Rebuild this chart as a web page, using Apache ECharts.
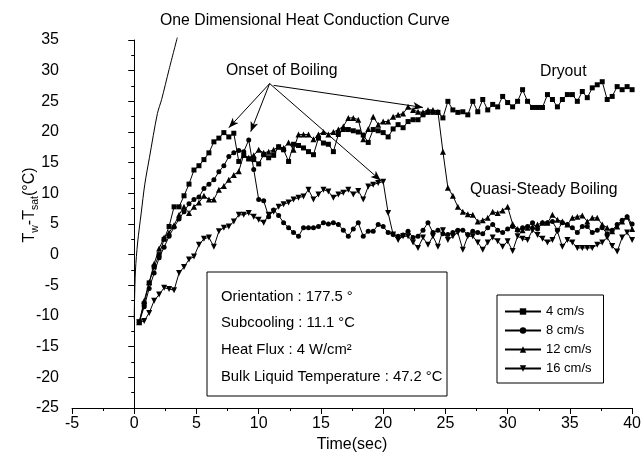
<!DOCTYPE html>
<html><head><meta charset="utf-8">
<script src="https://cdn.jsdelivr.net/npm/echarts@6/dist/echarts.min.js"></script>
<style>html,body{margin:0;padding:0;background:#fff}#c{width:644px;height:468px}</style>
</head><body><div id="c"></div>
<script>
// ---- data (time in s, Tw - Tsat in °C) ----
const time = [0.4,0.8,1.2,1.6,2.0,2.4,2.8,3.2,3.6,4.0,
  4.4,4.8,5.2,5.6,6.0,6.4,6.8,7.2,7.6,8.0,
  8.4,8.8,9.2,9.6,10.0,10.4,10.8,11.2,11.6,12.0,
  12.4,12.8,13.2,13.6,14.0,14.4,14.8,15.2,15.6,16.0,
  16.4,16.8,17.2,17.6,18.0,18.4,18.8,19.2,19.6,20.0,
  20.4,20.8,21.2,21.6,22.0,22.4,22.8,23.2,23.6,24.0,
  24.4,24.8,25.2,25.6,26.0,26.4,26.8,27.2,27.6,28.0,
  28.4,28.8,29.2,29.6,30.0,30.4,30.8,31.2,31.6,32.0,
  32.4,32.8,33.2,33.6,34.0,34.4,34.8,35.2,35.6,36.0,
  36.4,36.8,37.2,37.6,38.0,38.4,38.8,39.2,39.6,40.0];
const v4 = [-11,-8,-4.6,-2,0,2.5,4.6,7.8,7.8,9.6,
  11.5,13.8,14.5,15.5,16.6,18.4,19,19.9,19.2,19.8,
  15.2,16.2,15.6,15.5,14.8,16.3,15.8,16.2,17.6,17.1,
  15.2,18,17.8,17.4,16.8,16.3,19,18.2,18,16.8,
  19.6,20.4,20.4,20.2,20,19.5,18.3,20.4,20.2,19.9,
  19.2,20.5,21.2,20.7,21.7,22,22,22.8,23.2,23.2,
  23.2,22.3,25,23.6,23.2,23.3,22.8,25,23.3,25.3,
  23.6,24.5,24.1,25.8,24.8,24.1,25,26.9,25,24,
  24,24,26.1,25.3,24.1,25.3,26.1,26.1,25,26.6,
  25.6,27.2,27.7,28.2,25.3,25.8,27.4,26.9,27.4,26.9];
const v8 = [-11,-8.5,-5.5,-3,-0.5,1.2,3,4.5,5.8,7,
  8.3,9.0,9.4,10.8,11.5,12.2,13.5,14.5,16,16.6,
  17,16.8,18.7,13.9,9.0,8.8,6.2,7.3,6.4,5.2,
  4.4,3.6,3.0,4.4,4.4,4.4,4.6,5.2,5.0,5.2,
  4.9,4.0,3.0,4.2,5.2,3.0,3.8,3.8,4.9,4.6,
  3.6,3.3,3.0,3.2,3.8,2.8,3.0,4.0,5.2,3.6,
  4.0,3.4,3.3,3.6,4.0,4.0,3.3,3.8,3.6,3.4,
  4.4,4.9,4.0,3.6,4.2,4.6,4.0,4.4,4.6,5.2,
  4.2,5.2,5.2,5.4,4.0,5.2,4.9,4.4,3.6,4.6,
  4.6,3.6,4.0,4.4,3.4,4.0,4.9,5.6,6.2,5.0];
const v12 = [-11,-7.5,-4.5,-1.5,1.0,2.8,3.6,4.8,6.5,7.8,
  6.8,7.8,8.5,9.6,9.0,9.0,10.6,11.2,12.2,13,
  13.6,16.3,15.8,16.2,17.1,16.6,16.8,17.1,17.6,17.4,
  18.3,17.1,19.6,19.6,19.6,18.8,19.6,20.0,19.6,20.0,
  20.4,20.9,22.3,22.3,22.0,18.8,20.5,22.5,21.2,21.7,
  21.7,22.5,22.8,23.0,24.1,23.6,23.3,23.2,23.6,23.6,
  23.3,16.8,10.9,9.6,7.8,7.0,6.6,6.5,5.4,5.6,
  6.0,7.0,6.8,7.2,7.8,5.0,4.2,4.0,4.4,4.6,
  4.9,5.2,5.2,6.5,5.7,5.4,4.9,6.0,6.2,6.4,
  5.4,6.0,6.0,4.9,4.4,3.8,4.6,5.4,6.2,4.2];
const v16 = [-11,-10.8,-9.5,-7.5,-6.5,-5.4,-5.6,-5.8,-3.0,-2.0,
  -0.8,-0.3,1.6,2.6,2.8,1.3,3.8,4.4,4.6,5.4,
  6.5,6.5,6.8,6.2,5.7,5.2,6.5,7.0,7.8,8.2,
  8.5,9.0,9.3,9.5,10.6,9.0,9.8,10.6,10.3,9.3,
  9.8,10.1,10.6,9.8,10.4,9.0,11.1,11.4,11.7,11.9,
  6.8,3.3,2.4,3.0,3.0,2.0,1.1,2.8,1.6,3.0,
  1.3,4.0,2.4,3.0,3.6,0.8,3.0,3.0,2.0,0.8,
  2.0,2.8,2.2,1.3,2.2,0.6,3.0,2.6,2.4,4.0,
  3.2,2.6,2.0,2.4,3.8,1.3,2.4,2.0,1.1,1.1,
  1.1,1.1,1.6,2.0,2.8,1.4,0.5,2.8,3.6,2.4];
// one dimensional heat conduction curve
const condT = [0.0,0.02,0.1,0.27,0.56,0.85,1.22,1.86,2.2,2.8,3.46];
const condV = [-10.5,-7.8,-2.5,1.9,6.8,11.5,15.8,23.0,25.3,30.2,35.4];
const seriesNames = ['4 cm/s','8 cm/s','12 cm/s','16 cm/s'];
const xTicks = {min:-5, max:40, step:5};
const yTicks = {min:-25, max:35, step:5};
// annotation arrows in data coordinates [from, to]
const arrows = [
  [[6.57,35.5],[3.46,32.4]],
  [[10.88,27.9],[7.6,20.7]],
  [[10.88,27.9],[9.36,20.05]],
  [[10.88,27.9],[19.8,12.1]],
  [[11.2,27.6],[23.2,24.0]]
];
const infoLines = ['Orientation : 177.5 °','Subcooling : 11.1 °C','Heat Flux : 4 W/cm²','Bulk Liquid Temperature : 47.2 °C'];

const FONT = '"Liberation Sans", Arial, sans-serif';
const chart = echarts.init(document.getElementById('c'), null, {renderer:'canvas'});
const pair = arr => time.map((t,i)=>[t, arr[i]]);
const mk = (name, arr, symbol, size, rot) => ({
  name, type:'line', data: pair(arr), symbol, symbolSize:size, symbolRotate: rot||0,
  showSymbol:true, color:'#000',
  lineStyle:{color:'#000', width:1}, itemStyle:{color:'#000'},
  emphasis:{disabled:true}, animation:false, z:3
});
const txt = (x,y,s,size,z) => ({type:'text', x, y, z:z||5, style:{text:s, fill:'#000', font:`${size}px ${FONT}`, verticalAlign:'middle', align:'left'}});

chart.setOption({
  animation:false,
  backgroundColor:'#fff',
  grid:{left:72, right:8, top:40, bottom:60},
  xAxis:{
    type:'value', min:xTicks.min, max:xTicks.max, interval:xTicks.step,
    name:'Time(sec)', nameLocation:'middle', nameGap:25,
    nameTextStyle:{color:'#000', fontSize:16, fontFamily:FONT},
    axisLine:{onZero:false, lineStyle:{color:'#000', width:1}},
    axisTick:{length:6, lineStyle:{color:'#000'}},
    minorTick:{show:true, splitNumber:2, length:3, lineStyle:{color:'#000'}},
    splitLine:{show:false},
    axisLabel:{color:'#000', fontSize:16, fontFamily:FONT, margin:8}
  },
  yAxis:{
    type:'value', min:yTicks.min, max:yTicks.max, interval:yTicks.step,
    axisLine:{lineStyle:{color:'#000', width:1}},
    axisTick:{length:6, lineStyle:{color:'#000'}},
    minorTick:{show:true, splitNumber:2, length:3, lineStyle:{color:'#000'}},
    splitLine:{show:false},
    axisLabel:{color:'#000', fontSize:16, fontFamily:FONT, margin:13}
  },
  legend:{
    data:seriesNames, orient:'vertical', left:497, top:295,
    itemWidth:36, itemHeight:8, itemGap:6, padding:[10,12,8,7],
    borderColor:'#000', borderWidth:1, backgroundColor:'#fff',
    textStyle:{fontFamily:FONT, fontSize:13, color:'#000'}
  },
  series:[
    mk(seriesNames[0], v4, 'rect', 5),
    mk(seriesNames[1], v8, 'circle', 5),
    mk(seriesNames[2], v12, 'triangle', 6),
    mk(seriesNames[3], v16, 'triangle', 6, 180),
    {
      name:'conduction', type:'line', data: condT.map((t,i)=>[t, condV[i]]),
      smooth:0.3, showSymbol:false, symbol:'none', clip:false,
      lineStyle:{color:'#000', width:1}, emphasis:{disabled:true}, animation:false,
      markLine:{
        silent:true, animation:false, symbol:['none','arrow'], symbolSize:[6,10],
        lineStyle:{color:'#000', width:1, type:'solid'}, label:{show:false},
        emphasis:{disabled:true},
        data: arrows.map(a=>[{coord:a[0]},{coord:a[1]}])
      }
    }
  ],
  graphic:[
    {type:'text', x:30, y:205, rotation:Math.PI/2, z:5, style:{
      text:'{m|T}{s|w}{m|-T}{s|sat}{m|(°C)}', align:'center', verticalAlign:'middle',
      rich:{
        m:{fontSize:16, fontFamily:FONT, fill:'#000', lineHeight:22},
        s:{fontSize:10.5, fontFamily:FONT, fill:'#000', verticalAlign:'bottom'}
      }}},
    txt(160,21,'One Dimensional Heat Conduction Curve',15.8),
    txt(226,71,'Onset of Boiling',15.8),
    txt(540,72,'Dryout',15.8),
    txt(470,190,'Quasi-Steady Boiling',15.8),
    {type:'rect', shape:{x:207, y:272, width:240, height:124}, style:{fill:'#fff', stroke:'#000', lineWidth:1}, z:10},
    txt(221,297,infoLines[0],14.8,11),
    txt(221,323,infoLines[1],14.8,11),
    txt(221,350,infoLines[2],14.8,11),
    txt(221,377,infoLines[3],14.8,11)
  ]
});
</script></body></html>
